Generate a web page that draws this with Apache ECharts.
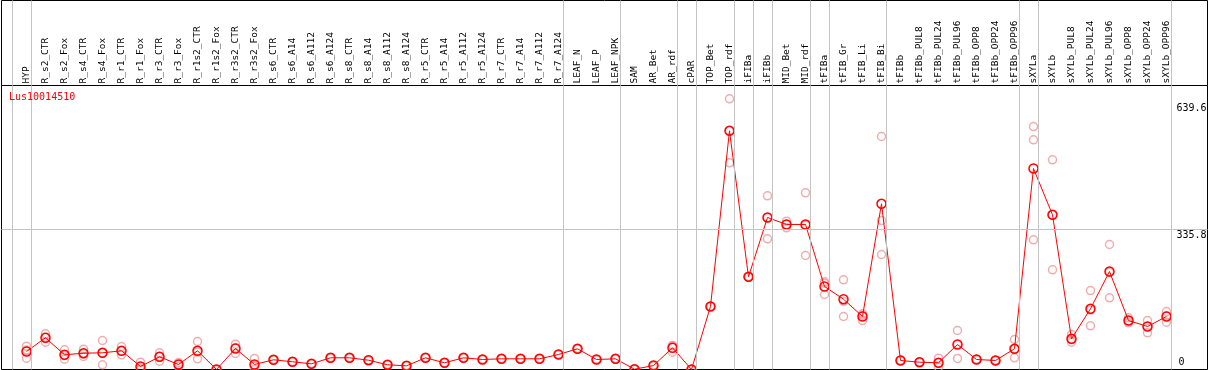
<!DOCTYPE html>
<html>
<head>
<meta charset="utf-8">
<script src="https://cdn.jsdelivr.net/npm/echarts@6/dist/echarts.min.js"></script>
<style>
  html, body { margin: 0; padding: 0; background: #fff; }
  #chart { width: 1209px; height: 370px; }
</style>
</head>
<body>
<div id="chart"></div>
<script>
var geneName = 'Lus10014510';

var categories = ['HYP', 'R_s2_CTR', 'R_s2_Fox', 'R_s4_CTR', 'R_s4_Fox', 'R_r1_CTR', 'R_r1_Fox',
  'R_r3_CTR', 'R_r3_Fox', 'R_r1s2_CTR', 'R_r1s2_Fox', 'R_r3s2_CTR', 'R_r3s2_Fox',
  'R_s6_CTR', 'R_s6_A14', 'R_s6_A112', 'R_s6_A124', 'R_s8_CTR', 'R_s8_A14', 'R_s8_A112', 'R_s8_A124',
  'R_r5_CTR', 'R_r5_A14', 'R_r5_A112', 'R_r5_A124', 'R_r7_CTR', 'R_r7_A14', 'R_r7_A112', 'R_r7_A124',
  'LEAF_N', 'LEAF_P', 'LEAF_NPK', 'SAM', 'AR_Bet', 'AR_rdf', 'cPAR', 'TOP_Bet', 'TOP_rdf',
  'iFIBa', 'iFIBb', 'MID_Bet', 'MID_rdf', 'tFIBa', 'tFIB_Gr', 'tFIB_Li', 'tFIB_Bi',
  'tFIBb', 'tFIBb_PUL8', 'tFIBb_PUL24', 'tFIBb_PUL96', 'tFIBb_OPP8', 'tFIBb_OPP24', 'tFIBb_OPP96',
  'sXYLa', 'sXYLb', 'sXYLb_PUL8', 'sXYLb_PUL24', 'sXYLb_PUL96', 'sXYLb_OPP8', 'sXYLb_OPP24', 'sXYLb_OPP96'];

// mean expression
var meanValues = [43.0, 75.7, 35.1, 38.9, 39.9, 44.6, 7.2, 30.3, 11.9, 44.6, 0, 50.1, 11.9,
  23.2, 18.4, 13.6, 27.9, 27.9, 22.2, 11.2, 8.8,
  27.9, 16.0, 27.9, 23.9, 25.5, 25.5, 25.5, 35.8,
  49.4, 23.9, 25.5, 0.7, 9.5, 51.8, 0, 150.4, 569.7,
  221.2, 362.8, 346.1, 346.1, 198.1, 167.8, 126.5, 395.5,
  21.5, 17.4, 16.0, 59.7, 23.9, 21.5, 49.4,
  479.7, 369.2, 73.3, 144.9, 233.9, 116.9, 102.6, 126.5];

// replicates
var rep1 = [55.6, 85.2, 47.0, 48.4, 69.2, 54.9, 17.4, 39.9, 16.7, 66.8, 0, 60.4, 26.3,
  23.2, 18.4, 13.6, 27.9, 27.9, 22.2, 11.2, 8.8,
  27.9, 16.0, 27.9, 23.9, 25.5, 25.5, 25.5, 35.8,
  49.4, 23.9, 25.5, 0.7, 9.5, 57.3, 0, 150.4, 646.1,
  221.2, 414.6, 353.9, 421.7, 206.0, 214.1, 132.9, 556.1,
  21.5, 17.4, 27.0, 93.1, 23.9, 21.5, 71.6,
  579.9, 500.5, 83.5, 188.5, 298.3, 123.4, 116.9, 138.4];
var rep2 = [46.4, 76.7, 33.7, 37.3, 39.3, 43.8, 4.2, 31.2, 11.9, 41.5, 0, 51.7, 9.4,
  23.2, 18.4, 13.6, 27.9, 27.9, 22.2, 11.2, 8.8,
  27.9, 16.0, 27.9, 23.9, 25.5, 25.5, 25.5, 35.8,
  49.4, 23.9, 25.5, 0.7, 9.5, 56.8, 0, 150.4, 569.7,
  221.2, 362.0, 346.2, 344.5, 209.3, 162.8, 129.7, 355.6,
  21.5, 17.4, 15.5, 59.7, 23.9, 21.5, 48.7,
  548.2, 369.2, 71.2, 141.9, 232.3, 115.8, 103.3, 128.2];
var rep3 = [27.0, 65.2, 24.6, 31.0, 11.2, 35.1, 0, 19.8, 7.2, 25.5, 0, 38.2, 0,
  23.2, 18.4, 13.6, 27.9, 27.9, 22.2, 11.2, 8.8,
  27.9, 16.0, 27.9, 23.9, 25.5, 25.5, 25.5, 35.8,
  49.4, 23.9, 25.5, 0.7, 9.5, 41.3, 0, 150.4, 493.3,
  221.2, 311.9, 338.2, 272.1, 179.0, 126.5, 116.9, 274.5,
  21.5, 17.4, 5.5, 26.3, 23.9, 21.5, 27.9,
  309.5, 237.9, 65.2, 104.3, 171.1, 111.5, 87.6, 112.9];

// group separators drawn just after these category indexes
var groupEnds = [-1, 0, 28, 31, 34, 35, 37, 38, 39, 41, 42, 45, 52, 53, 60];
var yLabels = [0, 335.8, 639.6];

var chart = echarts.init(document.getElementById('chart'));

var xMin = -1.3158, xMax = 62.158, yMax = 677.8;
var mono = 'DejaVu Sans Mono';

var meanData = meanValues.map(function (v, i) { return [i, v]; });
var repData = [];
[rep1, rep2, rep3].forEach(function (arr) {
  arr.forEach(function (v, i) { repData.push([i, v]); });
});
var sepLines = groupEnds.map(function (i) { return { xAxis: i + 0.25 }; });
var sepStyle = { color: '#c4c4c4', width: 1, type: 'solid' };

var yMarks = yLabels.map(function (v) {
  return {
    yAxis: v,
    lineStyle: { color: v === 335.8 ? '#c4c4c4' : 'transparent', width: 1, type: 'solid' },
    label: {
      show: true,
      formatter: String(v),
      position: v === 0 ? 'insideEndTop' : 'insideEndBottom',
      distance: v === 0 ? [23, 2] : [1, 2],
      color: '#000',
      fontFamily: mono,
      fontSize: 10
    }
  };
});

var option = {
  animation: false,
  backgroundColor: '#fff',
  title: {
    text: geneName,
    left: 9,
    top: 92,
    padding: 0,
    textStyle: { color: '#ff0000', fontFamily: mono, fontSize: 10, fontWeight: 'normal' }
  },
  grid: [
    { left: 1.5, right: 1.5, top: 0.5, height: 85, show: true, borderColor: '#000', borderWidth: 1 },
    { left: 1.5, right: 1.5, top: 85.5, bottom: 0.5, show: true, borderColor: '#000', borderWidth: 1 }
  ],
  xAxis: [
    { gridIndex: 0, type: 'value', min: xMin, max: xMax, show: false },
    {
      gridIndex: 1, type: 'value', min: xMin, max: xMax, position: 'top',
      axisLine: { show: false }, axisTick: { show: false }, splitLine: { show: false },
      axisLabel: {
        rotate: 90,
        margin: 2,
        customValues: categories.map(function (c, i) { return i; }),
        formatter: function (v) { return categories[Math.round(v)] || ''; },
        color: '#000',
        fontFamily: mono,
        fontSize: 9.5
      }
    }
  ],
  yAxis: [
    { gridIndex: 0, type: 'value', min: 0, max: 1, show: false },
    { gridIndex: 1, type: 'value', min: 0, max: yMax, show: false }
  ],
  series: [
    {
      type: 'line', xAxisIndex: 0, yAxisIndex: 0, data: [], silent: true,
      markLine: { silent: true, symbol: ['none', 'none'], label: { show: false }, lineStyle: sepStyle, data: sepLines }
    },
    {
      type: 'line', xAxisIndex: 1, yAxisIndex: 1, data: [], silent: true, z: 1,
      markLine: { silent: true, symbol: ['none', 'none'], label: { show: false }, lineStyle: sepStyle, data: sepLines.concat(yMarks) }
    },
    {
      name: 'replicates', type: 'scatter', xAxisIndex: 1, yAxisIndex: 1, z: 3,
      symbol: 'circle', symbolSize: 8,
      itemStyle: { color: 'transparent', borderColor: '#eb9a9a', borderWidth: 1.5 },
      data: repData
    },
    {
      name: geneName, type: 'line', xAxisIndex: 1, yAxisIndex: 1, z: 4,
      symbol: 'circle', symbolSize: 9, showAllSymbol: true,
      itemStyle: { color: 'transparent', borderColor: '#ff0000', borderWidth: 1.5 },
      lineStyle: { color: '#ff0000', width: 1 },
      data: meanData
    }
  ]
};
chart.setOption(option);
</script>
</body>
</html>
